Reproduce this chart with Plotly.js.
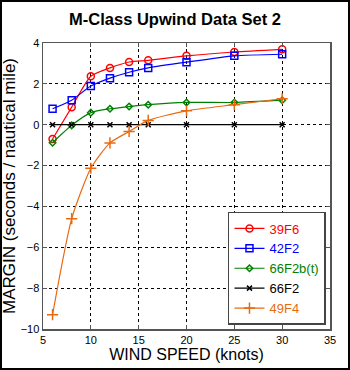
<!DOCTYPE html>
<html><head><meta charset="utf-8">
<script src="https://cdn.plot.ly/plotly-3.0.1.min.js"></script>
<style>body{margin:0;padding:0;background:#fff}#wrap{position:relative;width:350px;height:370px}#chart{width:350px;height:370px}#frame{position:absolute;left:0;top:0;width:350px;height:370px;box-sizing:border-box;border:2px solid #000;pointer-events:none}</style>
</head><body><div id="wrap"><div id="chart"></div><div id="frame"></div></div>
<script>
const windSpeed = [6, 8, 10, 12, 14, 16, 20, 25, 30];
const s39F6   = [-0.70, 0.86, 2.37, 2.78, 3.07, 3.15, 3.37, 3.56, 3.69];
const s42F2   = [0.78, 1.20, 1.89, 2.28, 2.57, 2.78, 3.06, 3.37, 3.45];
const s66F2bt = [-0.88, -0.03, 0.59, 0.78, 0.89, 0.98, 1.09, 1.09, 1.20];
const s66F2   = [0, 0, 0, 0, 0, 0, 0, 0, 0];
const s49F4   = [-9.30, -4.60, -2.13, -0.89, -0.33, 0.21, 0.68, 0.98, 1.27];
const names = ['39F6', '42F2', '66F2b(t)', '66F2', '49F4'];
const xTicks = [5, 10, 15, 20, 25, 30, 35];
const yTicks = [-10, -8, -6, -4, -2, 0, 2, 4];

function tr(y, name, color, symbol, size) {
  return {x: windSpeed, y: y, type: 'scatter', mode: 'lines+markers',
    name: '<span style="color:' + color + '">' + name + '</span>',
    line: {color: color, width: 1.2, shape: 'spline', smoothing: 0.6},
    marker: {symbol: symbol, size: size, color: color, line: {color: color, width: 1.5}}};
}
const data = [
  tr(s39F6, names[0], '#ff0000', 'circle-open', 7),
  tr(s42F2, names[1], '#0000ff', 'square-open', 7),
  tr(s66F2bt, names[2], '#008000', 'diamond-open', 5),
  tr(s66F2, names[3], '#000000', 'x-thin-open', 5),
  tr(s49F4, names[4], '#e86a10', 'cross-thin-open', 8)
];
const axBase = {showline: true, linecolor: '#555', linewidth: 1.5, mirror: 'ticks',
  ticks: 'inside', ticklen: 4, tickcolor: '#555', showgrid: true, gridcolor: '#000',
  griddash: 'dot', gridwidth: 1, zeroline: false,
  tickfont: {family: 'Arial, Liberation Sans, sans-serif', size: 11, color: '#000'}};
const layout = {
  width: 350, height: 370,
  margin: {l: 43, r: 20, t: 43, b: 41},
  paper_bgcolor: '#fff', plot_bgcolor: '#fff',
  title: {text: '<b>M-Class Upwind Data Set 2</b>', x: 0.5, xanchor: 'center', y: 0.948, yanchor: 'middle',
    font: {family: 'Arial, Liberation Sans, sans-serif', size: 16.5, color: '#000'}},
  xaxis: Object.assign({}, axBase, {range: [5, 35], tickvals: xTicks,
    title: {text: 'WIND SPEED (knots)', standoff: 2, font: {family: 'Arial, Liberation Sans, sans-serif', size: 16, color: '#000'}}}),
  yaxis: Object.assign({}, axBase, {range: [-10, 4], tickvals: yTicks,
    title: {text: 'MARGIN (seconds / nautical mile)', standoff: 5, font: {family: 'Arial, Liberation Sans, sans-serif', size: 17, color: '#000'}}}),
  showlegend: true,
  legend: {x: 0.986, y: 0.014, xanchor: 'right', yanchor: 'bottom', bgcolor: '#fff',
    bordercolor: '#444', borderwidth: 1.5, tracegroupgap: 0, itemwidth: 30,
    font: {family: 'Arial, Liberation Sans, sans-serif', size: 13, color: '#000'}}
};
Plotly.newPlot('chart', data, layout, {displayModeBar: false, staticPlot: true});
</script>
</body></html>
